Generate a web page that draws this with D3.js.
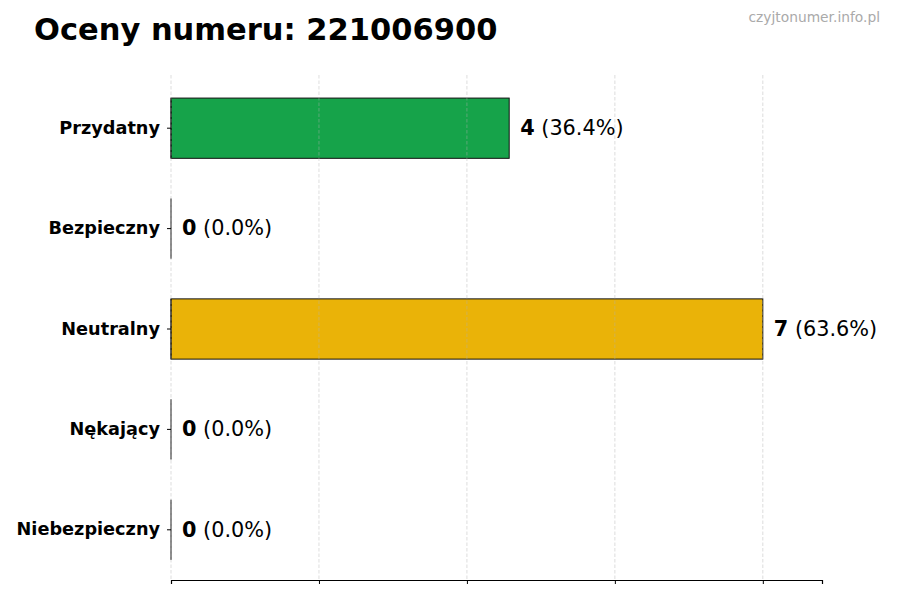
<!DOCTYPE html>
<html>
<head>
<meta charset="utf-8">
<script src="https://cdn.jsdelivr.net/npm/d3@7"></script>
<style>
  body { margin: 0; background: #fff; }
  svg { font-family: "DejaVu Sans", sans-serif; }
</style>
</head>
<body>
<div id="chart"></div>
<script>
const categories = ["Przydatny", "Bezpieczny", "Neutralny", "Nękający", "Niebezpieczny"];
const counts = [4, 0, 7, 0, 0];
const percents = ["36.4%", "0.0%", "63.6%", "0.0%", "0.0%"];
const colors = ["#16a34a", "#16a34a", "#eab308", "#ea580c", "#dc2626"];
const xTicks = [0, 1.75, 3.5, 5.25, 7];
const titleText = "Oceny numeru: 221006900";
const sourceText = "czyjtonumer.info.pl";

const width = 900, height = 600;
const margin = { top: 78, right: 78, bottom: 20, left: 171 };

const svg = d3.select("#chart")
  .append("svg")
  .attr("width", width)
  .attr("height", height);

const x = d3.scaleLinear()
  .domain([0, d3.max(counts) * 1.1])
  .range([margin.left, width - margin.right]);

const y = d3.scaleBand()
  .domain(categories)
  .range([margin.top, height - margin.bottom])
  .paddingInner(0.4)
  .paddingOuter(0.2);

// bars
svg.append("g")
  .selectAll("rect")
  .data(categories)
  .join("rect")
  .attr("x", x(0))
  .attr("y", d => y(d))
  .attr("width", (d, i) => x(counts[i]) - x(0))
  .attr("height", y.bandwidth())
  .attr("fill", (d, i) => colors[i])
  .attr("stroke", "#111")
  .attr("stroke-width", 1);

// edge of every bar at zero (visible for empty bars)
svg.append("g")
  .selectAll("line")
  .data(categories)
  .join("line")
  .attr("x1", x(0))
  .attr("x2", x(0))
  .attr("y1", d => y(d))
  .attr("y2", d => y(d) + y.bandwidth())
  .attr("stroke", "#111")
  .attr("stroke-width", 1);

// grid, drawn over the bars
svg.append("g")
  .selectAll("line")
  .data(xTicks)
  .join("line")
  .attr("x1", d => x(d))
  .attr("x2", d => x(d))
  .attr("y1", margin.top - 3)
  .attr("y2", height - margin.bottom)
  .attr("stroke", "#b0b0b0")
  .attr("stroke-opacity", 0.55)
  .attr("stroke-width", 0.8)
  .attr("stroke-dasharray", "3.5,2");

// bottom axis
const xAxis = svg.append("g")
  .attr("transform", `translate(0,${height - margin.bottom})`)
  .call(d3.axisBottom(x).tickValues(xTicks).tickFormat("").tickSizeOuter(0).tickSize(4));
xAxis.select(".domain").attr("stroke", "#000").attr("stroke-width", 1.2);
xAxis.selectAll(".tick line").attr("stroke", "#000");

// left axis (ticks only)
const yAxis = svg.append("g")
  .attr("transform", `translate(${margin.left},0)`)
  .call(d3.axisLeft(y).tickSizeOuter(0).tickSize(4).tickPadding(7));
yAxis.select(".domain").remove();
yAxis.selectAll(".tick line").attr("stroke", "#000");
yAxis.selectAll(".tick text")
  .attr("font-family", "DejaVu Sans")
  .attr("font-size", 17.7)
  .attr("font-weight", "bold")
  .attr("fill", "#000");

// value labels
const labels = svg.append("g")
  .selectAll("text")
  .data(categories)
  .join("text")
  .attr("x", (d, i) => x(counts[i]) + 11)
  .attr("y", d => y(d) + y.bandwidth() / 2)
  .attr("dy", "0.33em")
  .attr("font-size", 20.8)
  .attr("fill", "#000");
labels.append("tspan")
  .attr("font-weight", "bold")
  .text((d, i) => counts[i]);
labels.append("tspan")
  .text((d, i) => ` (${percents[i]})`);

// title
svg.append("text")
  .attr("x", 34)
  .attr("y", 40)
  .attr("font-size", 30.5)
  .attr("font-weight", "bold")
  .attr("fill", "#000")
  .text(titleText);

svg.append("text")
  .attr("x", 880)
  .attr("y", 22)
  .attr("text-anchor", "end")
  .attr("font-size", 13.8)
  .attr("fill", "#aaaaaa")
  .text(sourceText);
</script>
</body>
</html>
